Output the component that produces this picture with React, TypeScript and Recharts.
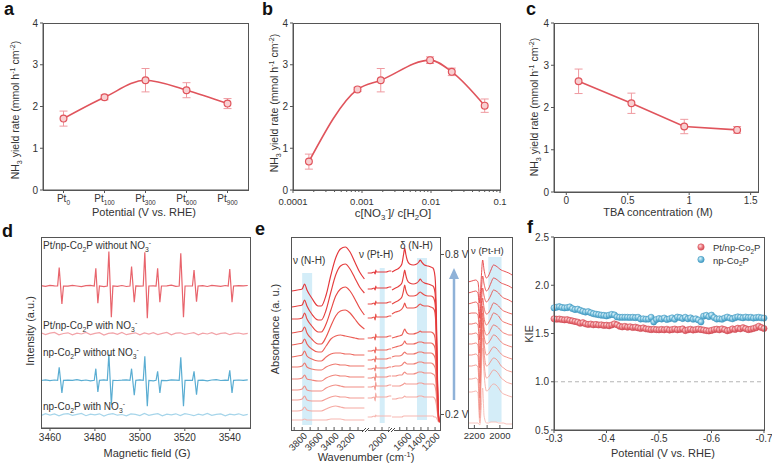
import React from 'react';
import {
  LineChart, Line, XAxis, YAxis, ErrorBar, ScatterChart, Scatter,
  ReferenceLine, ReferenceArea,
} from 'recharts';

const W = 772;
const H = 467;
const FONT = '"Liberation Sans", Arial, Helvetica, sans-serif';
const AX = '#555';
const TXT = '#333';

// ---------- panel a ----------
const aCats = ['0', '100', '300', '600', '900'];
const aYield = [1.71, 2.22, 2.63, 2.39, 2.07];
const aErr = [0.18, 0.06, 0.28, 0.18, 0.12];
const yTicks4 = [0, 1, 2, 3, 4];

// ---------- panel b ----------
const bRatio = [0.00017, 0.00086, 0.00187, 0.0097, 0.02, 0.06];
const bYield = [0.68, 2.41, 2.63, 3.11, 2.83, 2.02];
const bErr = [0.18, 0.05, 0.28, 0.08, 0.09, 0.16];
const bMajor = [0.0001, 0.001, 0.01, 0.1];
const bMinor = [
  0.0002, 0.0003, 0.0004, 0.0005, 0.0006, 0.0007, 0.0008, 0.0009,
  0.002, 0.003, 0.004, 0.005, 0.006, 0.007, 0.008, 0.009,
  0.02, 0.03, 0.04, 0.05, 0.06, 0.07, 0.08, 0.09,
];

// ---------- panel c ----------
const cTBA = [0.1, 0.53, 0.96, 1.39];
const cYield = [2.62, 2.1, 1.55, 1.47];
const cErr = [0.29, 0.24, 0.17, 0.08];
const cTicks = [0, 0.5, 1, 1.5];

// ---------- panel d (EPR) ----------
const eprTicks = [3460, 3480, 3500, 3520, 3540];
const eprUp = [3464.1, 3480.4, 3486.2, 3496.3, 3502.2, 3507.9, 3518.2, 3524.1, 3540.0];
const eprDown = [3465.3, 3481.3, 3487.3, 3497.5, 3503.3, 3508.9, 3519.4, 3525.2, 3541.0];
const redNoBase = 142;
const redNoUp = [18.4, 17.7, 34.4, 19.4, 33.7, 17.7, 32.7, 16, 17];
const redNoDown = [18, 17.3, 31.3, 16.3, 32.3, 16.3, 31.3, 15.6, 16.3];
const redWithBase = 94.3;
const blueNoBase = 47.7;
const blueNoUp = [13, 11.6, 26.3, 11.6, 24, 9, 23, 9, 10];
const blueNoDown = [12.7, 11.7, 24.4, 15, 26, 12.7, 26, 14.4, 12.7];
const blueWithBase = 13.3;
const noiseRedA = [0.4,-0.3,0.6,0.1,-0.5,0.5,-0.2,0.7,0.0,-0.6,0.3,0.6,-0.4,0.2,-0.7,0.4,0.1,-0.3,0.5,-0.5,0.0,0.7,-0.2,0.3,-0.6,0.2,0.5,-0.4,0.1,0.8,-0.3,0.4,-0.5,0.0,0.6,-0.2,0.3,-0.5,0.7,0.1,-0.4,0.5,-0.1,-0.3,0.4,0.2,0.5];
const noiseRedB = [1.0,-0.8,0.5,1.3,-1.1,0.2,0.9,-1.2,0.6,-0.3,1.2,-0.9,0.4,1.1,-1.3,0.3,0.8,-0.6,1.3,-1.0,0.1,0.9,-1.2,0.7,-0.4,1.1,-0.8,0.3,1.2,-1.1,0.5,0.9,-0.7,0.2,1.0,-1.2,0.6,-0.3,1.1,-0.9,0.4,0.8,-1.0,0.3,0.7,-0.5,0.4];
const noiseBlueA = [-0.2,0.5,-0.4,0.3,0.6,-0.5,0.2,-0.1,0.7,-0.4,0.3,-0.6,0.5,0.0,0.4,-0.3,0.6,-0.2,0.1,0.5,-0.6,0.3,0.4,-0.2,0.6,-0.5,0.1,0.3,-0.4,0.5,0.2,-0.3,0.6,-0.1,-0.4,0.4,0.2,-0.5,0.3,0.6,-0.2,0.1,0.5,-0.4,0.3,0.0,0.4];
const noiseBlueB = [-0.9,1.1,-0.4,0.8,-1.2,0.5,1.0,-0.7,0.3,1.2,-1.0,0.6,-0.2,0.9,-1.3,0.4,1.1,-0.5,0.2,-1.1,0.8,0.3,-0.9,1.2,-0.6,0.4,1.0,-1.2,0.5,-0.1,0.9,-0.8,1.1,0.2,-1.0,0.6,-0.4,1.2,-0.7,0.3,0.8,-1.1,0.5,-0.2,0.9,-0.6,0.3];

// ---------- panel e (IR) ----------
const eColors = ['#e4363a', '#e53f3f', '#e74945', '#e9534d', '#eb5e56', '#ed6a61', '#ee766c', '#f08278', '#f18e85', '#f39b93', '#f5a9a2', '#f7b8b2'];
const e1Wn = [3930, 3860, 3800, 3770, 3740, 3680, 3600, 3560, 3500, 3440, 3380, 3320, 3260, 3200, 3140, 3080, 3020];
const e1Curves = [
  [139,140,141,146,140,132,124,124,135,155,172,181,183,178,168,158,151],
  [123,124,125,130,124,116,110,110,120,138,155,164,166,161,152,143,137],
  [111,111,112,117,111,104,98,98,106,120,134,141,143,139,131,122,115],
  [97,98,99,103,97,91,86,86,93,104,114,119,120,117,111,105,101],
  [85,86,87,91,86,81,78,78,84,91,94,95,94,93,92,91,91],
  [73,74,75,79,74,71,69,69,73,76,77,77,76,76,75,75,75],
  [63,63,64,67,63,61,60,60,63,65,66,65,65,64,64,64,64],
  [51,51,52,55,51,50,49,49,52,54,55,54,54,53,53,53,53],
  [40,40,41,44,40,39,39,39,42,44,45,44,43,43,43,43,43],
  [30,30,31,34,30,29,29,29,31,33,34,33,33,32,32,32,32],
  [19,19,20,23,20,19,19,19,21,23,24,23,22,22,22,22,22],
  [10,10,10,11,10,10,10,10,10,11,11,11,10,10,10,10,10],
];
const e2Wn = [2200, 2150, 2110, 2095, 2088, 2080, 2060, 2020, 1980, 1940, 1900, 1870];
const e2Curves = [
  [157,157,158,156,160,158,158,158,158,158,159,159],
  [141,141,142,140,144,142,142,142,142,142,143,143],
  [126,126,127,125,129,127,127,127,127,127,128,128],
  [112,112,113,110,116,113,113,113,113,113,114,114],
  [92,92,93,90,96,93,93,93,93,93,94,94],
  [79,79,80,77,83,80,80,80,80,80,81,81],
  [70,70,71,68,74,71,71,71,71,71,72,72],
  [61,61,62,59,65,62,62,62,62,62,63,63],
  [52,52,53,49,57,53,53,53,53,53,54,54],
  [43,43,44,40,48,44,44,44,44,44,45,45],
  [32,32,33,29,37,33,33,33,33,33,34,34],
  [13,13,14,13,15,14,14,14,14,14,14,14],
];
const e3Wn = [1810, 1760, 1710, 1670, 1645, 1630, 1615, 1595, 1560, 1510, 1460, 1430, 1410, 1390, 1350, 1300, 1260, 1230, 1210, 1195, 1180, 1165, 1150, 1135];
const e3Curves = [
  [158,160,162,166,176,182,176,170,166,165,166,168,170,168,165,164,163,162,158,148,110,50,15,8],
  [140,142,144,147,155,160,155,150,147,146,147,149,151,149,147,146,145,144,141,133,100,45,14,8],
  [126,128,130,133,140,145,140,136,134,134,135,137,138,137,135,134,134,133,130,123,92,42,13,8],
  [116,118,119,121,124,127,124,122,122,122,123,125,126,125,124,124,123,122,120,113,85,40,13,8],
  [92,93,94,95,99,101,99,97,96,96,97,98,99,98,98,98,98,97,95,89,68,33,12,8],
  [82,83,84,85,87,89,87,86,86,86,87,88,88,88,87,87,87,86,84,79,60,30,11,8],
  [73,74,74,75,77,78,77,76,76,76,77,78,78,78,77,77,77,76,74,70,54,28,11,8],
  [63,64,64,65,67,68,67,66,66,66,67,68,68,68,67,67,67,66,64,61,47,25,10,8],
  [54,54,55,55,57,58,57,56,56,56,57,58,58,58,57,57,57,56,55,52,40,22,10,8],
  [44,44,44,45,46,47,46,46,46,46,46,47,47,47,46,46,46,46,45,42,33,19,10,8],
  [31,31,32,32,33,34,33,33,33,33,33,34,34,34,33,33,33,33,32,30,25,16,9,8],
  [13,13,13,13,14,14,14,14,14,14,14,14,14,14,14,14,14,14,13,13,12,10,8,8],
];
const eInWn = [2250, 2220, 2190, 2172, 2165, 2158, 2146, 2135, 2124, 2105, 2090, 2070, 2050, 2030, 2010, 1990, 1970, 1950, 1930, 1905];
const eInCurves = [
  [146,147,148,146,138,125,150,168,158,150,152,158,163,162,160,158,157,156,155,153],
  [135,136,137,135,126,110,135,152,144,137,139,145,150,149,147,145,144,143,142,140],
  [124,125,126,124,115,100,122,140,132,126,128,133,138,137,135,132,130,129,128,126],
  [114,115,115,113,104,88,110,130,120,114,115,120,125,124,122,119,117,116,115,114],
  [104,104,105,103,93,75,100,122,110,103,105,110,115,114,112,108,106,105,104,103],
  [94,94,95,93,82,60,90,115,100,93,94,99,103,102,100,97,95,94,93,93],
  [84,84,85,83,70,45,85,110,92,84,85,89,93,92,89,86,84,83,82,81],
  [73,73,74,72,58,30,80,105,85,73,74,78,81,80,77,74,72,71,70,69],
  [62,62,63,61,45,18,75,98,76,62,63,67,70,69,66,62,60,58,57,56],
  [49,49,50,48,32,10,65,90,66,50,51,55,58,57,54,50,48,46,45,44],
  [36,36,37,35,20,5,55,80,55,37,38,42,44,43,40,36,34,33,32,31],
  [5,5,5,5,4,3,20,40,12,5,5,6,6,6,5,5,5,4,4,4],
];

// ---------- panel f (KIE) ----------
const fPot = [-0.3,-0.305,-0.31,-0.315,-0.32,-0.325,-0.33,-0.335,-0.34,-0.345,-0.35,-0.355,-0.36,-0.365,-0.37,-0.375,-0.38,-0.385,-0.39,-0.395,-0.4,-0.405,-0.41,-0.415,-0.42,-0.425,-0.43,-0.435,-0.44,-0.445,-0.45,-0.455,-0.46,-0.465,-0.47,-0.475,-0.48,-0.485,-0.49,-0.495,-0.5,-0.505,-0.51,-0.515,-0.52,-0.525,-0.53,-0.535,-0.54,-0.545,-0.55,-0.555,-0.56,-0.565,-0.57,-0.575,-0.58,-0.585,-0.59,-0.595,-0.6,-0.605,-0.61,-0.615,-0.62,-0.625,-0.63,-0.635,-0.64,-0.645,-0.65,-0.655,-0.66,-0.665,-0.67,-0.675,-0.68,-0.685,-0.69,-0.695,-0.7];
const fRed = [
  1.652,1.648,1.650,1.645,1.641,1.643,1.636,1.630,1.624,1.618,
  1.606,1.612,1.600,1.594,1.598,1.590,1.594,1.588,1.590,1.584,
  1.586,1.580,1.588,1.600,1.590,1.575,1.568,1.574,1.566,1.570,
  1.562,1.566,1.558,1.552,1.558,1.548,1.545,1.540,1.544,1.540,
  1.538,1.542,1.538,1.544,1.536,1.540,1.546,1.538,1.542,1.548,
  1.530,1.538,1.544,1.536,1.540,1.546,1.540,1.536,1.530,1.526,
  1.532,1.540,1.545,1.538,1.548,1.540,1.528,1.535,1.548,1.542,
  1.555,1.548,1.560,1.550,1.540,1.545,1.552,1.560,1.575,1.562,
  1.552,
];
const fBlue = [
  1.765,1.772,1.778,1.770,1.765,1.768,1.775,1.758,1.748,1.752,
  1.740,1.730,1.722,1.726,1.715,1.705,1.700,1.695,1.690,1.688,
  1.682,1.690,1.698,1.692,1.672,1.668,1.668,1.668,1.668,1.666,
  1.668,1.664,1.668,1.650,1.652,1.648,1.650,1.668,1.620,1.645,
  1.655,1.650,1.660,1.645,1.652,1.662,1.648,1.670,1.665,1.655,
  1.668,1.652,1.662,1.648,1.652,1.640,1.620,1.680,1.688,1.675,
  1.690,1.665,1.650,1.652,1.648,1.660,1.670,1.660,1.652,1.664,
  1.672,1.668,1.662,1.670,1.665,1.668,1.660,1.664,1.668,1.662,
  1.660,
];
const fXTicks = [-0.3, -0.4, -0.5, -0.6, -0.7];
const fYTicks = [0.5, 1.0, 1.5, 2.0, 2.5];

// ---------- helpers ----------
const mg = (l: number, t: number, r: number, b: number, yw = 0, xh = 0) => ({
  left: l - yw, top: t, right: W - r, bottom: H - b - xh,
});

function rich(text: string, fs: number) {
  const parts = text.split(/(_\{[^}]*\}|\^\{[^}]*\})/).filter((s) => s.length);
  let cur = 0;
  return parts.map((p, i) => {
    let kind = 0;
    let t = p;
    if (p.startsWith('_{')) { kind = 1; t = p.slice(2, -1); }
    else if (p.startsWith('^{')) { kind = 2; t = p.slice(2, -1); }
    const target = kind === 1 ? fs * 0.3 : kind === 2 ? -fs * 0.4 : 0;
    const dy = target - cur;
    cur = target;
    return <tspan key={i} dy={dy} fontSize={kind ? fs * 0.68 : fs}>{t}</tspan>;
  });
}

const RText = ({ x, y, text, fs = 11, anchor = 'start', rot = false, weight = 'normal', fill = TXT }: any) => (
  rot ? (
    <text transform={`translate(${x},${y}) rotate(-90)`} x={0} y={fs * 0.35} textAnchor="middle" fontSize={fs} fill={fill} fontWeight={weight}>
      {rich(text, fs)}
    </text>
  ) : (
    <text x={x} y={y} textAnchor={anchor} fontSize={fs} fill={fill} fontWeight={weight}>{rich(text, fs)}</text>
  )
);

const xTick = (opts: { dy: number; fmt: (v: number) => string; major?: number[]; len?: number; fs?: number }) => (p: any) => {
  const v = p.payload.value;
  const isMajor = !opts.major || opts.major.includes(v);
  const len = isMajor ? (opts.len ?? 3) : 2;
  return (
    <g>
      <line x1={p.x} x2={p.x} y1={p.y} y2={p.y + len} stroke={AX} strokeWidth={1} />
      {isMajor && (
        <text x={p.x} y={p.y + opts.dy} textAnchor="middle" fontSize={opts.fs ?? 10} fill={TXT} fontFamily={FONT}>{opts.fmt(v)}</text>
      )}
    </g>
  );
};

const yTick = (fmt: (v: number) => string) => (p: any) => (
  <g>
    <line x1={p.x} x2={p.x - 3} y1={p.y} y2={p.y} stroke={AX} strokeWidth={1} />
    <text x={p.x - 5} y={p.y + 3.6} textAnchor="end" fontSize={10} fill={TXT} fontFamily={FONT}>{fmt(p.payload.value)}</text>
  </g>
);

const PtTick = (p: any) => (
  <g>
    <line x1={p.x} x2={p.x} y1={p.y} y2={p.y + 3} stroke={AX} strokeWidth={1} />
    <text x={p.x} y={p.y + 12} textAnchor="middle" fontSize={10} fill={TXT} fontFamily={FONT}>
      Pt<tspan dy={2.5} fontSize={6.5}>{p.payload.value}</tspan>
    </text>
  </g>
);

const eTick = (labels: number[]) => (p: any) => {
  const v = p.payload.value;
  return (
    <g>
      <line x1={p.x} x2={p.x} y1={p.y} y2={p.y - 3} stroke={AX} strokeWidth={1} />
      {labels.includes(v) && (
        <text transform={`translate(${p.x + 3},${p.y + 4}) rotate(-45)`} textAnchor="end" dominantBaseline="central" fontSize={9.5} fill={TXT} fontFamily={FONT}>{v}</text>
      )}
    </g>
  );
};

const eInTick = (labels: number[]) => (p: any) => {
  const v = p.payload.value;
  return (
    <g>
      <line x1={p.x} x2={p.x} y1={p.y} y2={p.y - 3} stroke={AX} strokeWidth={1} />
      {labels.includes(v) && (
        <text x={p.x} y={p.y + 11} textAnchor="middle" fontSize={9.5} fill={TXT} fontFamily={FONT}>{v}</text>
      )}
    </g>
  );
};

const yieldDot = { r: 3.4, fill: '#f8cfd1', stroke: '#e0545c', strokeWidth: 1.2 };
const LINE_RED = '#e0545c';
const ERR_RED = '#ef9aa0';

function buildEpr(base: number, noise: number[], ups?: number[], downs?: number[]) {
  let pts = noise.map((n, i) => ({ x: 3456 + 2 * i, y: base + n }));
  if (ups && downs) {
    pts = pts.filter((p) => !eprUp.some((u, k) => p.x > u - 1.6 && p.x < eprDown[k] + 1.6));
    eprUp.forEach((u, k) => {
      pts.push({ x: u - 0.7, y: base });
      pts.push({ x: u, y: base + ups[k] });
      pts.push({ x: eprDown[k], y: base - downs[k] });
      pts.push({ x: eprDown[k] + 0.7, y: base });
    });
  }
  return pts.sort((a, b) => a.x - b.x);
}

function table(wn: number[], curves: number[][]) {
  return wn.map((w, i) => {
    const row: any = { w };
    curves.forEach((c, k) => { row['c' + k] = c[i]; });
    return row;
  });
}

const Abs = ({ children }: any) => <div style={{ position: 'absolute', left: 0, top: 0 }}>{children}</div>;

// ---------- panels ----------
function PanelA() {
  const data = aCats.map((c, i) => ({ cat: c, y: aYield[i], err: aErr[i] }));
  return (
    <LineChart width={W} height={H} data={data} margin={mg(43, 23, 248, 190, 30, 25)}>
      <XAxis dataKey="cat" height={25} padding={{ left: 20.5, right: 20.5 }} interval={0} tickSize={0} tickMargin={0} tickLine={false} axisLine={{ stroke: AX }} tick={PtTick} />
      <YAxis width={30} domain={[0, 4]} ticks={yTicks4} interval={0} tickSize={0} tickMargin={0} tickLine={false} axisLine={{ stroke: AX }} tick={yTick((v) => String(v))} />
      <Line dataKey="y" type="monotone" stroke={LINE_RED} strokeWidth={1.6} dot={yieldDot} isAnimationActive={false}>
        <ErrorBar dataKey="err" width={4} stroke={ERR_RED} strokeWidth={1} direction="y" />
      </Line>
    </LineChart>
  );
}

function PanelB() {
  const data = bRatio.map((x, i) => ({ x, y: bYield[i], err: bErr[i] }));
  const allTicks = [...bMajor, ...bMinor].sort((a, b) => a - b);
  return (
    <LineChart width={W} height={H} data={data} margin={mg(293, 23, 500, 190, 30, 25)}>
      <XAxis dataKey="x" type="number" scale="log" domain={[0.0001, 0.1]} ticks={allTicks} interval={0} height={25} tickSize={0} tickMargin={0} tickLine={false} axisLine={{ stroke: AX }} tick={xTick({ dy: 14.5, fmt: (v) => String(v), major: bMajor, fs: 9.5 })} />
      <YAxis width={30} domain={[0, 4]} ticks={yTicks4} interval={0} tickSize={0} tickMargin={0} tickLine={false} axisLine={{ stroke: AX }} tick={yTick((v) => String(v))} />
      <Line dataKey="y" type="monotone" stroke={LINE_RED} strokeWidth={1.6} dot={yieldDot} isAnimationActive={false}>
        <ErrorBar dataKey="err" width={4} stroke={ERR_RED} strokeWidth={1} direction="y" />
      </Line>
    </LineChart>
  );
}

function PanelC() {
  const data = cTBA.map((x, i) => ({ x, y: cYield[i], err: cErr[i] }));
  return (
    <LineChart width={W} height={H} data={data} margin={mg(554, 23, 758, 192, 30, 25)}>
      <XAxis dataKey="x" type="number" domain={[-0.1, 1.56]} ticks={cTicks} interval={0} height={25} tickSize={0} tickMargin={0} tickLine={false} axisLine={{ stroke: AX }} tick={xTick({ dy: 12, fmt: (v) => String(v) })} />
      <YAxis width={30} domain={[0, 4]} ticks={yTicks4} interval={0} tickSize={0} tickMargin={0} tickLine={false} axisLine={{ stroke: AX }} tick={yTick((v) => String(v))} />
      <Line dataKey="y" type="linear" stroke={LINE_RED} strokeWidth={1.6} dot={yieldDot} isAnimationActive={false}>
        <ErrorBar dataKey="err" width={4} stroke={ERR_RED} strokeWidth={1} direction="y" />
      </Line>
    </LineChart>
  );
}

function PanelD() {
  const traces = [
    { data: buildEpr(redNoBase, noiseRedA, redNoUp, redNoDown), color: '#e8646c' },
    { data: buildEpr(redWithBase, noiseRedB), color: '#f2a3a8' },
    { data: buildEpr(blueNoBase, noiseBlueA, blueNoUp, blueNoDown), color: '#5aadd2' },
    { data: buildEpr(blueWithBase, noiseBlueB), color: '#a6d5ea' },
  ];
  return (
    <LineChart width={W} height={H} margin={mg(41, 237, 250, 428, 0, 25)}>
      <XAxis dataKey="x" type="number" domain={[3456, 3549]} ticks={eprTicks} interval={0} height={25} tickSize={0} tickMargin={0} tickLine={false} axisLine={{ stroke: AX }} tick={xTick({ dy: 13, fmt: (v) => String(v) })} />
      <YAxis hide domain={[0, 191]} />
      {traces.map((t, i) => (
        <Line key={i} data={t.data} dataKey="y" type="linear" stroke={t.color} strokeWidth={1.2} dot={false} isAnimationActive={false} />
      ))}
    </LineChart>
  );
}

function ESeg({ l, r, b, wn, curves, domain, ticks, labels, band, yMax, inset }: any) {
  const data = table(wn, curves);
  return (
    <LineChart width={W} height={H} data={data} margin={mg(l, 237, r, b, 0, 25)}>
      <XAxis dataKey="w" type="number" reversed domain={domain} ticks={ticks} interval={0} height={25} tickSize={0} tickMargin={0} tickLine={false} axisLine={false} tick={inset ? eInTick(labels) : eTick(labels)} />
      <YAxis hide domain={[0, yMax]} />
      <ReferenceArea x1={band[0]} x2={band[1]} y1={band[2]} y2={band[3]} fill="#d4edf8" fillOpacity={1} stroke="none" ifOverflow="visible" />
      {curves.map((_: any, k: number) => {
        const idx = curves.length - 1 - k;
        return (
          <Line key={idx} dataKey={'c' + idx} type="monotone" stroke={eColors[idx]} strokeWidth={inset ? 1 : 1.15} strokeOpacity={inset ? 0.85 : 1} dot={false} isAnimationActive={false} />
        );
      })}
    </LineChart>
  );
}

function PanelF() {
  const red = fPot.map((x, i) => ({ x, y: fRed[i] }));
  const blue = fPot.map((x, i) => ({ x, y: fBlue[i] }));
  const ball = (id: string, stroke: string) => (p: any) => (
    <circle cx={p.cx} cy={p.cy} r={3.1} fill={`url(#${id})`} stroke={stroke} strokeWidth={0.6} />
  );
  return (
    <ScatterChart width={W} height={H} margin={mg(554, 237, 764, 430, 30, 25)}>
      <XAxis dataKey="x" type="number" reversed domain={[-0.7, -0.3]} ticks={fXTicks} interval={0} height={25} tickSize={0} tickMargin={0} tickLine={false} axisLine={{ stroke: AX }} tick={xTick({ dy: 12, fmt: (v) => v.toFixed(1) })} />
      <YAxis dataKey="y" type="number" width={30} domain={[0.5, 2.5]} ticks={fYTicks} interval={0} tickSize={0} tickMargin={0} tickLine={false} axisLine={{ stroke: AX }} tick={yTick((v) => v.toFixed(1))} />
      <ReferenceLine y={1} stroke="#b5b5b5" strokeDasharray="4 3" strokeWidth={1} />
      <Scatter data={blue} shape={ball('ballBlue', '#4a9cc2')} isAnimationActive={false} />
      <Scatter data={red} shape={ball('ballRed', '#d4505a')} isAnimationActive={false} />
    </ScatterChart>
  );
}

function Overlay() {
  const frame = (x1: number, y1: number, x2: number, y2: number) => (
    <rect x={x1 + 0.5} y={y1 + 0.5} width={x2 - x1} height={y2 - y1} fill="none" stroke={AX} strokeWidth={1} />
  );
  const brk = (x: number, y: number) => (
    <g stroke="#444" strokeWidth={1}>
      <rect x={x - 3} y={y - 2} width={5} height={4} fill="#fff" stroke="none" />
      <line x1={x - 4} y1={y + 2} x2={x} y2={y - 2} />
      <line x1={x - 1} y1={y + 2} x2={x + 3} y2={y - 2} />
    </g>
  );
  return (
    <svg width={W} height={H} style={{ position: 'absolute', left: 0, top: 0, fontFamily: FONT }}>
      <defs>
        <radialGradient id="ballRed" cx="38%" cy="35%" r="65%">
          <stop offset="0%" stopColor="#fde0e1" />
          <stop offset="55%" stopColor="#ec7b81" />
          <stop offset="100%" stopColor="#d44c55" />
        </radialGradient>
        <radialGradient id="ballBlue" cx="38%" cy="35%" r="65%">
          <stop offset="0%" stopColor="#e2f4fb" />
          <stop offset="55%" stopColor="#79c2de" />
          <stop offset="100%" stopColor="#3f97c0" />
        </radialGradient>
      </defs>

      {frame(43, 23, 248, 190)}
      {frame(293, 23, 500, 190)}
      {frame(554, 23, 758, 192)}
      {frame(41, 237, 250, 428)}
      {frame(291, 237, 440, 430)}
      {frame(468, 237, 512, 428)}
      {frame(554, 237, 764, 430)}

      {/* panel letters */}
      <text x={4} y={15} fontSize={18} fontWeight="bold" fill="#111">a</text>
      <text x={262} y={15} fontSize={18} fontWeight="bold" fill="#111">b</text>
      <text x={526} y={15} fontSize={18} fontWeight="bold" fill="#111">c</text>
      <text x={2} y={237} fontSize={18} fontWeight="bold" fill="#111">d</text>
      <text x={255} y={235} fontSize={18} fontWeight="bold" fill="#111">e</text>
      <text x={527} y={233} fontSize={18} fontWeight="bold" fill="#111">f</text>

      {/* a, b, c titles */}
      <RText x={15.5} y={110} rot fs={10.5} text="NH_{3} yield rate (mmol h^{-1} cm^{-2})" />
      <RText x={144} y={216} anchor="middle" fs={11} text="Potential (V vs. RHE)" />
      <RText x={274.5} y={103} rot fs={10.5} text="NH_{3} yield rate (mmol h^{-1} cm^{-2})" />
      <RText x={393} y={217} anchor="middle" fs={11.5} text="c[NO_{3}^{-}]/ c[H_{2}O]" />
      <RText x={534.5} y={107} rot fs={10.5} text="NH_{3} yield rate (mmol h^{-1} cm^{-2})" />
      <RText x={658} y={216} anchor="middle" fs={11} text="TBA concentration (M)" />

      {/* d */}
      <RText x={30} y={331} rot fs={11} text="Intensity (a.u.)" />
      <RText x={147} y={457} anchor="middle" fs={11} text="Magnetic field (G)" />
      <RText x={43} y={249} fs={10} text="Pt/np-Co_{2}P without NO_{3}^{-}" />
      <RText x={43} y={329} fs={10} text="Pt/np-Co_{2}P with NO_{3}^{-}" />
      <RText x={43} y={356} fs={10} text="np-Co_{2}P without NO_{3}^{-}" />
      <RText x={43} y={410} fs={10} text="np-Co_{2}P with NO_{3}^{-}" />

      {/* e */}
      <RText x={275.5} y={329} rot fs={11} text="Absorbance (a. u.)" />
      <RText x={366} y={461} anchor="middle" fs={11} text="Wavenumber (cm^{-1})" />
      <RText x={293} y={264} fs={10} text="ν (N-H)" />
      <RText x={359} y={258} fs={10} text="ν (Pt-H)" />
      <RText x={400} y={249} fs={10} text="δ (N-H)" />
      <RText x={471} y={254} fs={9.5} text="ν (Pt-H)" />
      <line x1={440} x2={444} y1={254.5} y2={254.5} stroke={AX} />
      <line x1={440} x2={444} y1={414.5} y2={414.5} stroke={AX} />
      <RText x={445} y={258} fs={10} text="0.8 V" />
      <RText x={445} y={418} fs={10} text="0.2 V" />
      <line x1={454} x2={454} y1={400} y2={277} stroke="#8fb2d8" strokeWidth={2.5} />
      <polygon points="449,279 459,279 454,268" fill="#8fb2d8" />
      {brk(366, 430)}
      {brk(392, 430)}

      {/* f */}
      <RText x={529.5} y={334} rot fs={11} text="KIE" />
      <RText x={663} y={457} anchor="middle" fs={11} text="Potential (V vs. RHE)" />
      <circle cx={701} cy={247} r={3.2} fill="url(#ballRed)" stroke="#d4505a" strokeWidth={0.6} />
      <circle cx={701} cy={259.5} r={3.2} fill="url(#ballBlue)" stroke="#4a9cc2" strokeWidth={0.6} />
      <RText x={713} y={251} fs={9.5} text="Pt/np-Co_{2}P" />
      <RText x={713} y={263.5} fs={9.5} text="np-Co_{2}P" />
    </svg>
  );
}

export default function App() {
  return (
    <div style={{ position: 'absolute', left: 0, top: 0, width: W, height: H, background: '#fff', fontFamily: FONT, overflow: 'hidden' }}>
      <Abs><PanelA /></Abs>
      <Abs><PanelB /></Abs>
      <Abs><PanelC /></Abs>
      <Abs><PanelD /></Abs>
      <Abs>
        <ESeg l={291} r={366} b={430} wn={e1Wn} curves={e1Curves} domain={[3000, 3940]} ticks={[3900, 3800, 3700, 3600, 3500, 3400, 3300, 3200, 3100]} labels={[3800, 3600, 3400, 3200]} band={[3800, 3675, 5, 157]} yMax={193} />
      </Abs>
      <Abs>
        <ESeg l={367} r={392} b={430} wn={e2Wn} curves={e2Curves} domain={[1860, 2210]} ticks={[2100, 2000, 1900]} labels={[2000]} band={[2032, 1962, 7, 162]} yMax={193} />
      </Abs>
      <Abs>
        <ESeg l={392} r={440} b={430} wn={e3Wn} curves={e3Curves} domain={[1130, 1810]} ticks={[1700, 1600, 1500, 1400, 1300, 1200]} labels={[1600, 1400, 1200]} band={[1456, 1314, 10, 172]} yMax={193} />
      </Abs>
      <Abs>
        <ESeg l={468} r={512} b={428} wn={eInWn} curves={eInCurves} domain={[1905, 2250]} ticks={[2200, 2100, 2000]} labels={[2200, 2000]} band={[2091, 1987, 6, 171]} yMax={191} inset />
      </Abs>
      <Abs><PanelF /></Abs>
      <Overlay />
    </div>
  );
}
